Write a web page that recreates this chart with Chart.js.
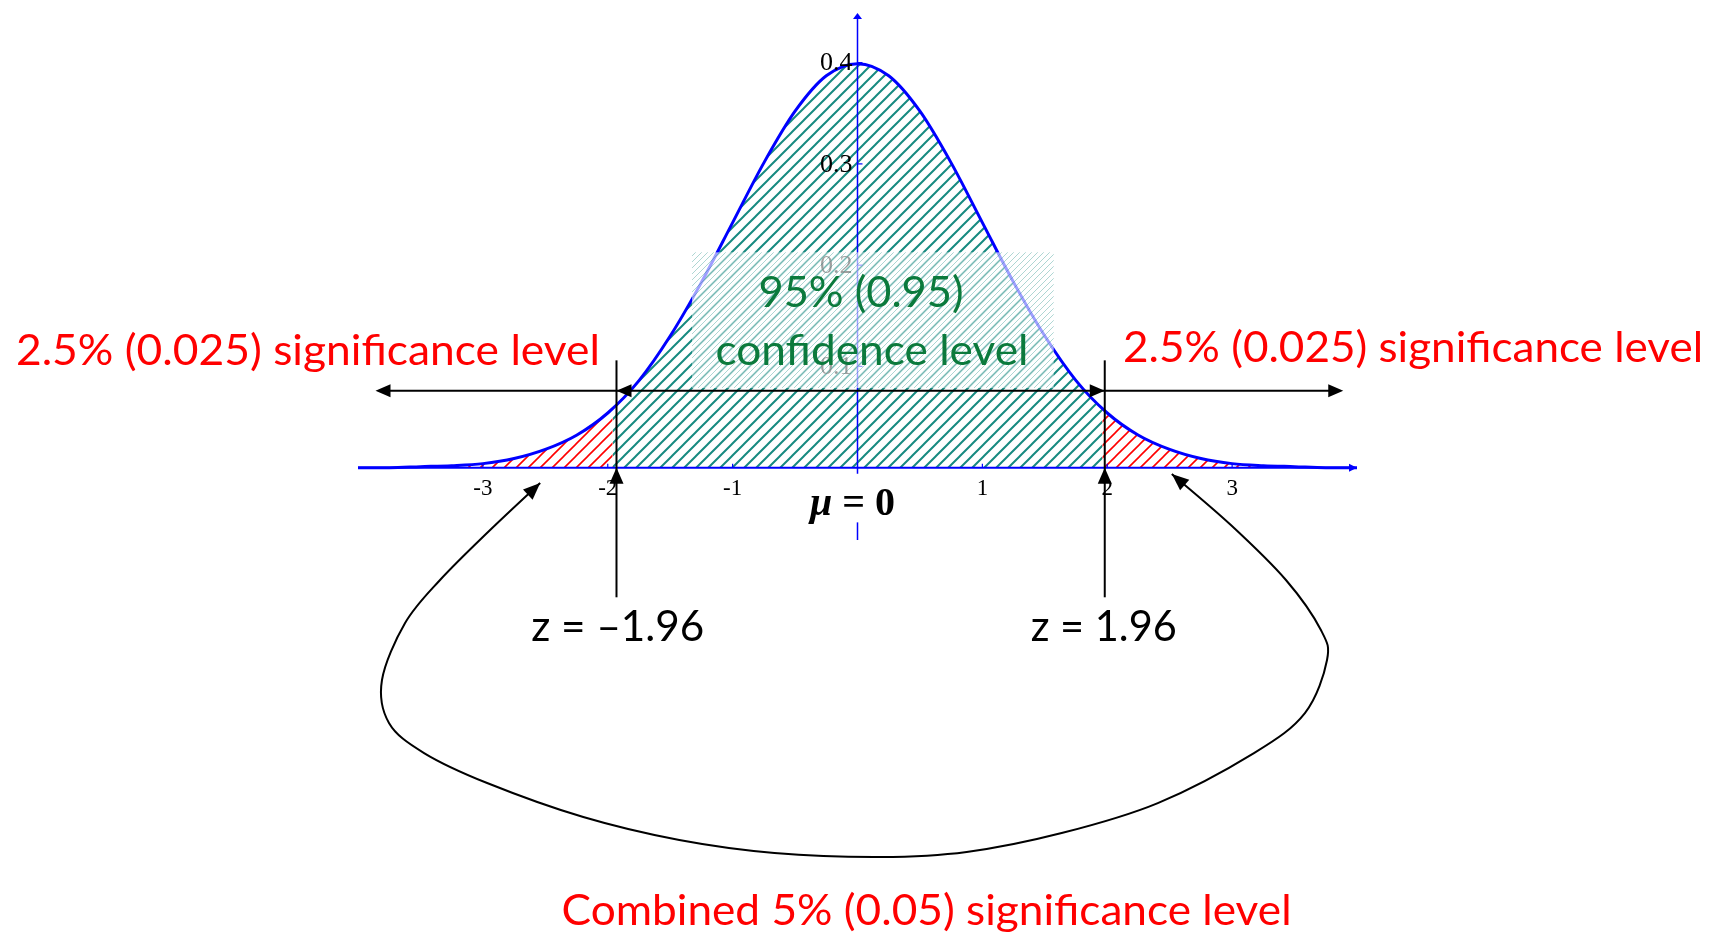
<!DOCTYPE html>
<html>
<head>
<meta charset="utf-8">
<title>Two-tailed test at the 5% level</title>
<script src="https://cdn.jsdelivr.net/npm/chart.js@4.4.1/dist/chart.umd.min.js"></script>
<style>
  html, body { margin: 0; padding: 0; background: #fff; overflow: hidden; }
  canvas { display: block; }
</style>
</head>
<body>
<canvas id="normalChart" width="1719" height="934"></canvas>
<script>
// z positions along the axis and the curve height
var zValues = [-4, -3.75, -3.5, -3.25, -3, -2.75, -2.5, -2.25, -2, -1.75, -1.5, -1.25, -1, -0.75, -0.5, -0.25,
  0, 0.25, 0.5, 0.75, 1, 1.25, 1.5, 1.75, 2, 2.25, 2.5, 2.75, 3, 3.25, 3.5, 3.75, 4];
var density = [0.000, 0.000, 0.001, 0.002, 0.004, 0.009, 0.018, 0.032, 0.054, 0.086, 0.130, 0.183, 0.242, 0.301, 0.352, 0.387,
  0.399, 0.387, 0.352, 0.301, 0.242, 0.183, 0.130, 0.086, 0.054, 0.032, 0.018, 0.009, 0.004, 0.002, 0.001, 0.000, 0.000];

// critical value and the curve height where the shading changes
var criticalZ = 1.96;
var densityAtCritical = 0.058;

// axis ticks
var xTickValues = [-3, -2, -1, 1, 2, 3];
var xTickLabels = ["-3", "-2", "-1", "1", "2", "3"];
var yTickValues = [0.1, 0.2, 0.3, 0.4];
var yTickLabels = ["0.1", "0.2", "0.3", "0.4"];

// text on the figure
var tailLabel = "2.5% (0.025) significance level";
var centreLabel = ["95% (0.95)", "confidence level"];
var criticalLabels = ["z = \u20131.96", "z = 1.96"];
var meanLabel = ["\u03bc", " = 0"];
var combinedLabel = "Combined 5% (0.05) significance level";

// build the point lists for the line and the three shaded pieces
var curvePoints = zValues.map(function (z, i) { return { x: z, y: density[i] }; });
var leftTail = curvePoints.filter(function (p) { return p.x < -criticalZ; });
leftTail.push({ x: -criticalZ, y: densityAtCritical });
var centre = [{ x: -criticalZ, y: densityAtCritical }].concat(
  curvePoints.filter(function (p) { return p.x > -criticalZ && p.x < criticalZ; }),
  [{ x: criticalZ, y: densityAtCritical }]);
var rightTail = [{ x: criticalZ, y: densityAtCritical }].concat(
  curvePoints.filter(function (p) { return p.x > criticalZ; }));

var ctx = document.getElementById("normalChart").getContext("2d");

// diagonal hatch tile
function hatchTile(color, gap, width) {
  var c = document.createElement("canvas");
  c.width = gap;
  c.height = gap;
  var g = c.getContext("2d");
  g.strokeStyle = color;
  g.lineWidth = width;
  g.beginPath();
  g.moveTo(-1, gap + 1); g.lineTo(gap + 1, -1);
  g.moveTo(-1, 1); g.lineTo(1, -1);
  g.moveTo(gap - 1, gap + 1); g.lineTo(gap + 1, gap - 1);
  g.stroke();
  return ctx.createPattern(c, "repeat");
}

var tealHatch = hatchTile("#178a80", 12, 2);
var redHatch = hatchTile("#ff0000", 12, 1.6);
var paleHatch = hatchTile("rgba(23,138,128,0.35)", 6, 1);

function head(c, tipX, tipY, fromX, fromY, len, half) {
  var a = Math.atan2(tipY - fromY, tipX - fromX);
  c.beginPath();
  c.moveTo(tipX, tipY);
  c.lineTo(tipX - len * Math.cos(a) + half * Math.sin(a), tipY - len * Math.sin(a) - half * Math.cos(a));
  c.lineTo(tipX - len * Math.cos(a) - half * Math.sin(a), tipY - len * Math.sin(a) + half * Math.cos(a));
  c.closePath();
  c.fill();
}

// text squeezed to the width it has in the picture
function fitText(c, text, cx, base, width, size, color) {
  c.font = size + "px Lato, 'Open Sans', sans-serif";
  var w = c.measureText(text).width;
  c.save();
  c.translate(cx, base);
  c.scale(width / w, 1);
  c.fillStyle = color;
  c.textAlign = "center";
  c.textBaseline = "alphabetic";
  c.fillText(text, 0, 0);
  c.restore();
}

var annotate = {
  id: "annotate",
  afterDatasetsDraw: function (chart) {
    var c = chart.ctx;
    var xs = chart.scales.x, ys = chart.scales.y;
    function px(v) { return xs.getPixelForValue(v); }
    function py(v) { return ys.getPixelForValue(v); }
    var x0 = px(0), y0 = py(0);

    c.save();
    // axes
    c.strokeStyle = "#0000ff";
    c.fillStyle = "#0000ff";
    c.lineWidth = 2;
    c.beginPath(); c.moveTo(px(-4), y0); c.lineTo(px(4) - 5, y0); c.stroke();
    head(c, px(4), y0, px(4) - 10, y0, 8, 4);
    c.lineWidth = 1.5;
    c.beginPath(); c.moveTo(x0, py(-0.0714)); c.lineTo(x0, py(0.449) + 4); c.stroke();
    head(c, x0, py(0.449), x0, py(0.449) + 10, 6, 4.5);
    c.lineWidth = 1.2;
    xTickValues.forEach(function (v) {
      c.beginPath(); c.moveTo(px(v), y0); c.lineTo(px(v), y0 - 4); c.stroke();
    });
    yTickValues.forEach(function (v) {
      c.beginPath(); c.moveTo(x0, py(v)); c.lineTo(x0 + 5, py(v)); c.stroke();
    });
    c.fillStyle = "#000";
    c.font = "23px 'Liberation Serif', 'Times New Roman', serif";
    c.textAlign = "center";
    c.textBaseline = "alphabetic";
    xTickValues.forEach(function (v, i) { c.fillText(xTickLabels[i], px(v), y0 + 27); });
    c.font = "26px 'Liberation Serif', 'Times New Roman', serif";
    c.textAlign = "right";
    c.textBaseline = "middle";
    yTickValues.forEach(function (v, i) { c.fillText(yTickLabels[i], x0 - 5, py(v) + 1); });

    // translucent text box over the middle
    var bl = px(-1.325), br = px(1.571), bt = py(0.2127), bb = py(0.0787);
    c.fillStyle = "rgba(255,255,255,0.62)";
    c.fillRect(bl, bt, br - bl, bb - bt);
    c.fillStyle = paleHatch;
    c.fillRect(bl, bt, br - bl, bb - bt);
    fitText(c, centreLabel[0], px(0.028), py(0.1587), 205, 43, "#0b7a3c");
    fitText(c, centreLabel[1], px(0.116), py(0.1014), 313, 43, "#0b7a3c");

    // arrows along the critical values
    var zl = -1.93, zr = 1.98, ay = py(0.076);
    c.strokeStyle = "#000";
    c.fillStyle = "#000";
    c.lineWidth = 2;
    c.beginPath();
    c.moveTo(px(-3.86) + 10, ay); c.lineTo(px(3.89) - 10, ay);
    c.stroke();
    head(c, px(-3.86), ay, px(-3.86) + 20, ay, 15, 6.5);
    head(c, px(zl), ay, px(zl) + 20, ay, 15, 6.5);
    head(c, px(zr), ay, px(zr) - 20, ay, 15, 6.5);
    head(c, px(3.89), ay, px(3.89) - 20, ay, 15, 6.5);
    [zl, zr].forEach(function (z) {
      c.beginPath(); c.moveTo(px(z), py(0.106)); c.lineTo(px(z), py(-0.128)); c.stroke();
      head(c, px(z), y0, px(z), y0 + 20, 16, 7);
    });

    fitText(c, tailLabel, px(-4.401), py(0.1014), 584, 43, "#ff0000");
    fitText(c, tailLabel, px(4.449), py(0.1044), 580, 43, "#ff0000");
    fitText(c, criticalLabels[0], px(-1.92), py(-0.1712), 173, 43, "#000");
    fitText(c, criticalLabels[1], px(1.972), py(-0.1712), 146, 43, "#000");

    // mean label on a white patch over the axis
    var mx = px(-0.04), mb = py(-0.0467);
    c.fillStyle = "#fff";
    c.fillRect(mx - 52, py(-0.006), 104, py(-0.054) - py(-0.006));
    c.fillStyle = "#000";
    c.textAlign = "left";
    c.textBaseline = "alphabetic";
    c.font = "italic bold 40px 'Liberation Serif', serif";
    var w1 = c.measureText(meanLabel[0]).width;
    c.font = "bold 40px 'Liberation Serif', serif";
    var w2 = c.measureText(meanLabel[1]).width;
    var sx = mx - (w1 + w2) / 2;
    c.font = "italic bold 40px 'Liberation Serif', serif";
    c.fillText(meanLabel[0], sx, mb);
    c.font = "bold 40px 'Liberation Serif', serif";
    c.fillText(meanLabel[1], sx + w1, mb);

    // loop joining the two tails
    var loop = [[-2.541, -0.0151], [-2.942, -0.0615], [-3.343, -0.1109], [-3.623, -0.1534], [-3.808, -0.2097],
      [-3.752, -0.2521], [-3.471, -0.2818], [-2.966, -0.3114], [-2.196, -0.345], [-1.427, -0.3677],
      [-0.665, -0.3805], [0.184, -0.3845], [0.874, -0.3795], [1.635, -0.3608], [2.405, -0.3312],
      [3.175, -0.2818], [3.583, -0.2423], [3.76, -0.1899], [3.711, -0.1603], [3.431, -0.1109],
      [2.99, -0.0566], [2.517, -0.0062]].map(function (p) { return [px(p[0]), py(p[1])]; });
    c.strokeStyle = "#000";
    c.lineWidth = 2;
    c.beginPath();
    c.moveTo(loop[0][0], loop[0][1]);
    for (var i = 0; i < loop.length - 1; i++) {
      var p0 = loop[Math.max(i - 1, 0)], p1 = loop[i], p2 = loop[i + 1], p3 = loop[Math.min(i + 2, loop.length - 1)];
      c.bezierCurveTo(p1[0] + (p2[0] - p0[0]) / 6, p1[1] + (p2[1] - p0[1]) / 6,
        p2[0] - (p3[0] - p1[0]) / 6, p2[1] - (p3[1] - p1[1]) / 6, p2[0], p2[1]);
    }
    c.stroke();
    c.fillStyle = "#000";
    head(c, loop[0][0], loop[0][1], loop[1][0], loop[1][1], 17, 7);
    var n = loop.length;
    head(c, loop[n - 1][0], loop[n - 1][1], loop[n - 2][0], loop[n - 2][1], 17, 7);

    fitText(c, combinedLabel, px(0.553), py(-0.4516), 730, 43, "#ff0000");
    c.restore();
  }
};

new Chart(ctx, {
  type: "scatter",
  data: {
    datasets: [
      {
        data: curvePoints,
        showLine: true,
        borderColor: "#0000ff",
        borderWidth: 3,
        pointRadius: 0,
        cubicInterpolationMode: "monotone",
        fill: false
      },
      {
        data: leftTail,
        showLine: true,
        borderWidth: 0,
        pointRadius: 0,
        cubicInterpolationMode: "monotone",
        backgroundColor: redHatch,
        fill: "origin"
      },
      {
        data: centre,
        showLine: true,
        borderWidth: 0,
        pointRadius: 0,
        cubicInterpolationMode: "monotone",
        backgroundColor: tealHatch,
        fill: "origin"
      },
      {
        data: rightTail,
        showLine: true,
        borderWidth: 0,
        pointRadius: 0,
        cubicInterpolationMode: "monotone",
        backgroundColor: redHatch,
        fill: "origin"
      }
    ]
  },
  options: {
    responsive: false,
    animation: false,
    layout: { padding: { left: 358, right: 362, top: 12, bottom: 0 } },
    plugins: { legend: { display: false }, tooltip: { enabled: false } },
    scales: {
      x: { type: "linear", min: -4, max: 4, display: false },
      y: { type: "linear", min: -0.4605, max: 0.45, display: false }
    }
  },
  plugins: [annotate]
});
</script>
</body>
</html>
